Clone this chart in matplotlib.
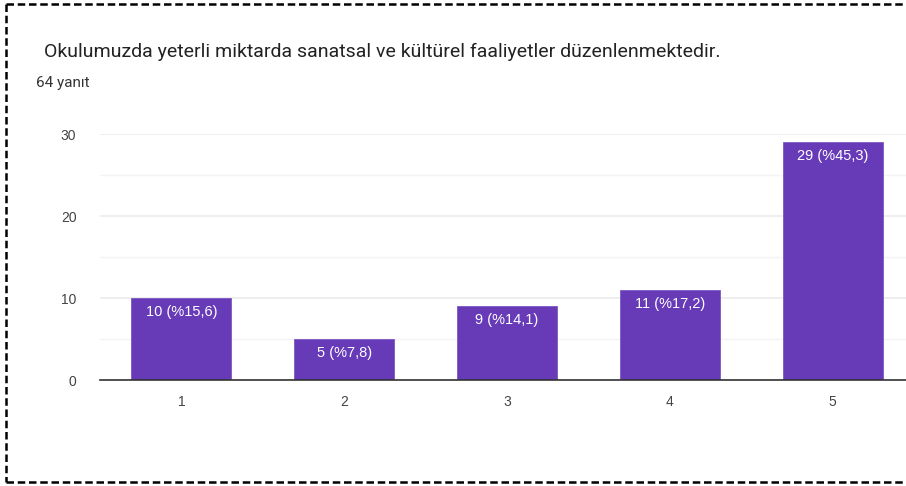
import matplotlib
matplotlib.use("Agg")
import matplotlib.pyplot as plt
from matplotlib.lines import Line2D

# data
categories = ["1", "2", "3", "4", "5"]
counts = [10, 5, 9, 11, 29]
percents = ["15,6", "7,8", "14,1", "17,2", "45,3"]
title = "Okulumuzda yeterli miktarda sanatsal ve kültürel faaliyetler düzenlenmektedir."
subtitle = "64 yanıt"

W, H = 906, 486
fig = plt.figure(figsize=(W / 100, H / 100), dpi=100)

# axes placed in pixel terms (x=0.5 at 100px, x=5.5 at ~914px)
ax = fig.add_axes([100 / W, 1 - 380 / H, 814 / W, (380 - 134) / H])
xs = list(range(1, len(categories) + 1))
bars = ax.bar(xs, counts, width=0.615, color="#673ab7", edgecolor="#7e57c2",
              linewidth=0.6, zorder=3)
ax.set_xlim(0.5, 5.5)
ax.set_ylim(0, 30)
ax.set_yticks([0, 10, 20, 30])
ax.set_yticks([5, 15, 25], minor=True)
ax.set_xticks(xs)
ax.set_xticklabels(categories)
ax.grid(axis="y", which="major", color="#ebebeb", linewidth=1.2, zorder=0)
ax.grid(axis="y", which="minor", color="#f4f4f4", linewidth=1.0, zorder=0)
ax.tick_params(axis="both", which="both", length=0, labelsize=10,
               labelcolor="#444444")
ax.tick_params(axis="y", pad=17)
ax.tick_params(axis="x", pad=11)
for lbl in ax.get_xticklabels() + ax.get_yticklabels():
    lbl.set_family("Liberation Sans")
for side in ["top", "right", "left"]:
    ax.spines[side].set_visible(False)
ax.spines["bottom"].set_color("#333333")
ax.spines["bottom"].set_linewidth(1.2)
ax.spines["bottom"].set_zorder(4)

for b, c, p in zip(bars, counts, percents):
    ax.annotate(f"{c} (%{p})", (b.get_x() + b.get_width() / 2, c),
                xytext=(0, -5), textcoords="offset points",
                ha="center", va="top", color="white", fontsize=10.5,
                family="Liberation Sans", zorder=5)

fig.text(44 / W, 1 - 52 / H, title, fontsize=14, family="Roboto",
         color="#222222", va="center", ha="left")
fig.text(36 / W, 1 - 83 / H, subtitle, fontsize=11, family="Roboto",
         color="#333333", va="center", ha="left")

# dashed frame on left, top and bottom
frame = dict(color="black", linewidth=1.8, linestyle=(0, (3, 1.5)),
             transform=fig.transFigure)
fig.add_artist(Line2D([6 / W, 6 / W], [1 - 4 / H, 1 - 482 / H], **frame))
fig.add_artist(Line2D([6 / W, 1], [1 - 4 / H, 1 - 4 / H], **frame))
fig.add_artist(Line2D([6 / W, 1], [1 - 482 / H, 1 - 482 / H], **frame))

fig.savefig("out.png", dpi=100)
